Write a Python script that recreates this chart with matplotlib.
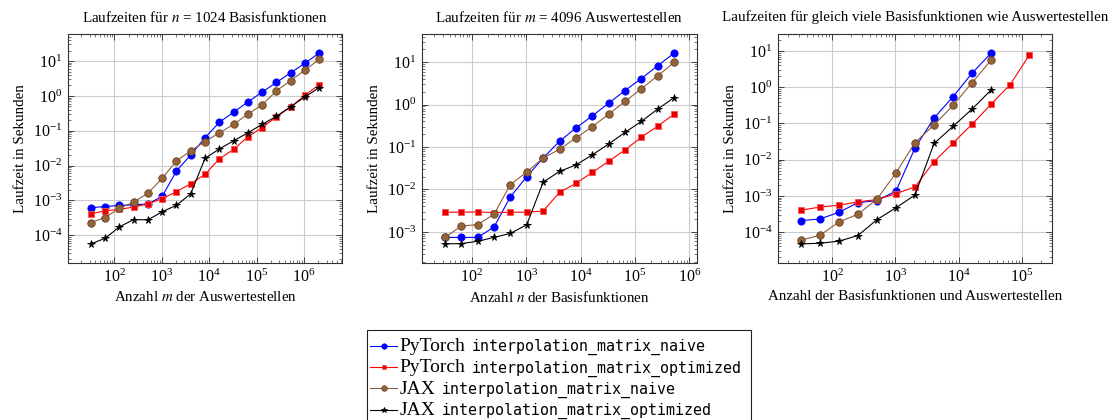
import numpy as np
import matplotlib
matplotlib.use("Agg")
import matplotlib.pyplot as plt
from matplotlib.ticker import FixedLocator, LogFormatterSciNotation, NullFormatter
from matplotlib.lines import Line2D
from matplotlib.patches import Rectangle

plt.rcParams['font.family'] = ['Liberation Serif', 'DejaVu Serif']
plt.rcParams['mathtext.fontset'] = 'stix'

# ---------------- data ----------------
x_p1 = [32, 64, 128, 256, 512, 1024, 2048, 4096, 8192, 16384, 32768, 65536,
        131072, 262144, 524288, 1048576, 2097152]
p1_torch_naive = [6.2e-4, 6.6e-4, 7.2e-4, 7.4e-4, 7.9e-4, 1.3e-3, 7.0e-3, 0.020, 0.063,
                  0.174, 0.34, 0.67, 1.28, 2.43, 4.6, 8.7, 17.0]
p1_torch_opt = [4.1e-4, 5.0e-4, 5.5e-4, 6.4e-4, 7.9e-4, 1.12e-3, 1.78e-3, 3.0e-3, 5.6e-3,
                0.0155, 0.029, 0.067, 0.123, 0.25, 0.48, 1.05, 2.1]
p1_jax_naive = [2.3e-4, 3.2e-4, 5.9e-4, 8.9e-4, 1.6e-3, 4.3e-3, 0.0136, 0.0265, 0.049,
                0.087, 0.152, 0.30, 0.55, 1.39, 2.76, 5.5, 11.2]
p1_jax_opt = [5.6e-5, 8.1e-5, 1.73e-4, 2.8e-4, 2.75e-4, 4.7e-4, 7.2e-4, 1.55e-3, 0.016,
              0.030, 0.051, 0.087, 0.152, 0.26, 0.49, 0.93, 1.74]

x_p2 = [32, 64, 128, 256, 512, 1024, 2048, 4096, 8192, 16384, 32768, 65536,
        131072, 262144, 524288]
p2_torch_naive = [7.4e-4, 7.4e-4, 7.4e-4, 1.3e-3, 6.7e-3, 0.020, 0.055, 0.136, 0.28, 0.54,
                  1.07, 2.14, 4.1, 8.2, 16.3]
p2_torch_opt = [2.9e-3, 2.9e-3, 2.95e-3, 2.85e-3, 2.9e-3, 2.9e-3, 3.1e-3, 8.5e-3, 0.0139,
                0.0251, 0.046, 0.085, 0.17, 0.31, 0.59]
p2_jax_naive = [7.4e-4, 1.37e-3, 1.48e-3, 2.6e-3, 0.013, 0.0257, 0.055, 0.088, 0.163, 0.30,
                0.59, 1.18, 2.35, 4.75, 9.8]
p2_jax_opt = [5.2e-4, 5.3e-4, 6.0e-4, 7.4e-4, 9.2e-4, 1.47e-3, 0.0148, 0.0266, 0.0376,
              0.065, 0.117, 0.22, 0.40, 0.78, 1.46]

x_p3 = [32, 64, 128, 256, 512, 1024, 2048, 4096, 8192, 16384, 32768]
x_p3_long = [32, 64, 128, 256, 512, 1024, 2048, 4096, 8192, 16384, 32768, 65536, 131072]
p3_torch_naive = [2.07e-4, 2.3e-4, 3.5e-4, 6.5e-4, 7.4e-4, 1.35e-3, 0.021, 0.141, 0.55,
                  2.45, 8.8]
p3_torch_opt = [4.0e-4, 4.9e-4, 5.5e-4, 6.8e-4, 7.9e-4, 1.15e-3, 1.77e-3, 8.8e-3, 0.029,
                0.095, 0.34, 1.19, 7.6]
p3_jax_naive = [6.0e-5, 8.1e-5, 1.9e-4, 3.1e-4, 8.1e-4, 4.3e-3, 0.0296, 0.091, 0.316,
                1.34, 5.6]
p3_jax_opt = [4.7e-5, 4.9e-5, 5.6e-5, 8.0e-5, 2.2e-4, 4.7e-4, 1.05e-3, 0.028, 0.083,
              0.25, 0.84]

titles = [r"Laufzeiten für $n$ = 1024 Basisfunktionen",
          r"Laufzeiten für $m$ = 4096 Auswertestellen",
          "Laufzeiten für gleich viele Basisfunktionen wie Auswertestellen"]
xlabels = [r"Anzahl $m$ der Auswertestellen",
           r"Anzahl $n$ der Basisfunktionen",
           "Anzahl der Basisfunktionen und Auswertestellen"]
ylabel = "Laufzeit in Sekunden"

legend_lib = ["PyTorch", "PyTorch", "JAX", "JAX"]
legend_fn = ["interpolation_matrix_naive", "interpolation_matrix_optimized",
             "interpolation_matrix_naive", "interpolation_matrix_optimized"]

# ---------------- styles ----------------
styles = [
    dict(color='#0000ff', marker='o', markersize=5.2, markerfacecolor='#0000ff',
         markeredgecolor='#0000ff'),
    dict(color='#ff0000', marker='s', markersize=4.7, markerfacecolor='#e80000',
         markeredgecolor='#ff5050'),
    dict(color='#8b5e3c', marker='o', markersize=5.4, markerfacecolor='#93633a',
         markeredgecolor='#6b4423'),
    dict(color='#000000', marker='*', markersize=5.6, markerfacecolor='#000000',
         markeredgecolor='#000000'),
]

W, H = 1117, 420
fig = plt.figure(figsize=(W / 100, H / 100), dpi=100)

panels = [
    ((68, 342), [(x_p1, p1_torch_naive), (x_p1, p1_torch_opt), (x_p1, p1_jax_naive), (x_p1, p1_jax_opt)]),
    ((422, 697), [(x_p2, p2_torch_naive), (x_p2, p2_torch_opt), (x_p2, p2_jax_naive), (x_p2, p2_jax_opt)]),
    ((778, 1052), [(x_p3, p3_torch_naive), (x_p3_long, p3_torch_opt), (x_p3, p3_jax_naive), (x_p3, p3_jax_opt)]),
]
top_px, bot_px = 34, 263


def log_ticks(lo, hi):
    majors = [10.0 ** e for e in range(int(np.floor(lo)) - 1, int(np.ceil(hi)) + 1)
              if lo <= e <= hi]
    minors = [m * 10.0 ** e for e in range(int(np.floor(lo)) - 1, int(np.ceil(hi)) + 1)
              for m in range(2, 10) if lo <= np.log10(m * 10.0 ** e) <= hi]
    return majors, minors


for i, ((lpx, rpx), series) in enumerate(panels):
    ax = fig.add_axes([lpx / W, 1 - bot_px / H, (rpx - lpx) / W, (bot_px - top_px) / H])
    for (xs, ys), st in zip(series, styles):
        ax.plot(xs, ys, linewidth=0.8, markeredgewidth=0.6, **st, zorder=3)
    ax.set_xscale('log')
    ax.set_yscale('log')
    allx = np.log10(np.concatenate([np.asarray(s[0], float) for s in series]))
    ally = np.log10(np.concatenate([np.asarray(s[1], float) for s in series]))
    ex = 0.1 * (allx.max() - allx.min())
    ey = 0.1 * (ally.max() - ally.min())
    xlo, xhi = allx.min() - ex, allx.max() + ex
    ylo, yhi = ally.min() - ey, ally.max() + ey
    ax.set_xlim(10 ** xlo, 10 ** xhi)
    ax.set_ylim(10 ** ylo, 10 ** yhi)
    for axis, (lo, hi) in ((ax.xaxis, (xlo, xhi)), (ax.yaxis, (ylo, yhi))):
        majors, minors = log_ticks(lo, hi)
        axis.set_major_locator(FixedLocator(majors))
        axis.set_minor_locator(FixedLocator(minors))
        axis.set_major_formatter(LogFormatterSciNotation())
        axis.set_minor_formatter(NullFormatter())
    ax.tick_params(which='both', direction='in', top=True, right=True,
                   color='#404040', labelsize=11.5, pad=4)
    ax.tick_params(which='major', length=4.5, width=0.7)
    ax.tick_params(which='minor', length=2.5, width=0.5)
    ax.grid(True, which='major', color='#cccccc', linewidth=0.8, zorder=0)
    ax.set_axisbelow(True)
    for sp in ax.spines.values():
        sp.set_color('#333333')
        sp.set_linewidth(0.8)
    ax.set_title(titles[i], fontsize=10.8, pad=9)
    ax.set_xlabel(xlabels[i], fontsize=10.8, labelpad=3)
    ax.set_ylabel(ylabel, fontsize=10.8, labelpad=4)

# ---------------- legend ----------------
def fx(px):
    return px / W


def fy(py):
    return 1 - py / H


box_l, box_r, box_t, box_b = 367, 751, 330, 423
fig.patches.append(Rectangle((fx(box_l), fy(box_b)), fx(box_r) - fx(box_l), fy(box_t) - fy(box_b),
                             transform=fig.transFigure, facecolor='white', edgecolor='#222222',
                             linewidth=0.8, clip_on=False))
row_y = [345.7, 367.0, 388.3, 409.7]
renderer = fig.canvas.get_renderer()
for k in range(4):
    st = styles[k]
    yl = fy(row_y[k])
    fig.lines.append(Line2D([fx(370), fx(397)], [yl, yl], transform=fig.transFigure,
                            color=st['color'], linewidth=0.8))
    fig.lines.append(Line2D([fx(383.5)], [yl], transform=fig.transFigure, linestyle='none',
                            marker=st['marker'], markersize=st['markersize'] * 0.75,
                            markerfacecolor=st['markerfacecolor'],
                            markeredgecolor=st['markeredgecolor'], markeredgewidth=0.5))
    t1 = fig.text(fx(399.5), fy(row_y[k] + 5.3), legend_lib[k], fontsize=14,
                  family='Liberation Serif', va='baseline', ha='left')
    bb = t1.get_window_extent(renderer=renderer)
    fig.text(bb.x1 / W + 6.3 / W, fy(row_y[k] + 5.3), legend_fn[k], fontsize=10.8,
             family='DejaVu Sans Mono', va='baseline', ha='left')

fig.savefig('out.png', dpi=100)
